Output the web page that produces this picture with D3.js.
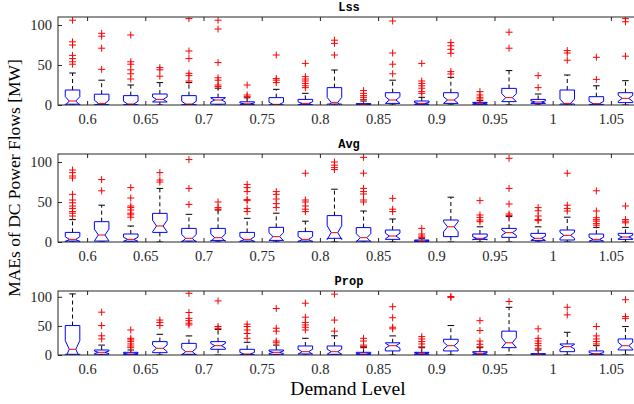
<!DOCTYPE html>
<html>
<head>
<meta charset="utf-8">
<script src="https://cdn.jsdelivr.net/npm/d3@7"></script>
<style>
html,body{margin:0;padding:0;background:#fff;}
svg{display:block;}
.serif{font-family:"Liberation Serif","DejaVu Serif",serif;}
.mono{font-family:"Liberation Mono","DejaVu Sans Mono",monospace;font-weight:bold;}
</style>
</head>
<body>
<svg id="chart" width="634" height="404"></svg>
<script>
// ---------------- data ----------------
const demandLevels = ["0.6","0.65","0.7","0.75","0.8","0.85","0.9","0.95","1","1.05"];
const boxIds = d3.range(1, 21);           // 20 boxes, two per demand level
const yTicks = [0, 50, 100];
const sampleSize = 27;                    // for notch width (MATLAB: 1.57*IQR/sqrt(n))

// Lss
const lssQ1  = [1,0.5,0.5,3.75,0.5,1,0.5,0.3,0.5,1.2,0.3,2,0.8,2,0.8,4.2,2,1.2,0.8,3];
const lssMed = [5,2,1.25,7,1.25,6.25,1.5,0.8,2,3.3,0.8,6.25,2,6.25,2,9.2,3.75,2,1.7,8.3];
const lssQ3  = [18.75,13.5,11.7,13.75,11.7,9.2,4,9.2,7,21.7,1.7,15.4,5,15.4,3.3,20.8,7,18.75,10.4,15.4];
const lssWhi = [40,31,25,28,28,21,9,19.6,14.6,43.75,5,31,9.6,34.6,5.4,43,13.75,37.5,24,30.4];
const lssOut = [
  [106,79,75,62,58,54,51],
  [89.6,86,71,44.6],
  [87.5,54,51,44,39,32.5],
  [46.7,44,36],
  [108,67.5,58,39.6,36.7,30],
  [106,95,53,34,31,25,23],
  [25,12.5,10.4],
  [62.5,33,31,28],
  [52,35.4,32.5,30,27,24,21.7],
  [81,77,62.5],
  [18,14.6,11.7,9.6,7],
  [105,65,51,39],
  [52,30,27,24,21,16.7,14.6],
  [78,74,69.6,64.6,41.7,38.75],
  [16.7,12.5,9.6,7.5],
  [91,71],
  [36.7,21.7],
  [68,65,56],
  [59.6,32],
  [108,104,61]
];

// Avg
const avgQ1  = [1.2,1.2,1,12,1.2,2,1.2,2,1.2,4.6,1.2,3.3,0.4,6.7,3.3,5.8,2,2.5,1.2,3.3];
const avgMed = [3.3,8.75,3.3,20,4.6,5.4,3.3,6.7,3.3,11.7,5.4,7.5,1.2,19,4.6,11.7,4.6,8.3,3.3,6.25];
const avgQ3  = [12,25.4,10,35.8,17,17,12,18.3,13,33,18,15,2.5,27.5,10,17,10.8,15,10,10.8];
const avgWhi = [28,46,20,67,34.6,40,29.6,36,26,66,38.75,28.75,4.6,56,19,31.7,19,31,18.3,18.3];
const avgOut = [
  [90,86.7,82.5,80,59.6,52.5,49,45,42,38,36,32.5],
  [78,64],
  [68,55,45,43,40,36,34,31],
  [86.7,77.5,75],
  [103,67,47],
  [50,43,41],
  [72,68,63,53,51.7,42,38],
  [63,59.6,53.75,48,43],
  [86,52.5,50,45,41,38],
  [100,96,93,90.5],
  [105.8,86,67,63,60,52.5,50],
  [54.6,41,38],
  [17,10,7.5,5.8],
  [],
  [51.7,33.75,30.8,27.5,25.4],
  [104.6,67,47.5,35,33],
  [43,39,32.5,28,26.7],
  [86,46,42,38.75],
  [64,38.75,30.4,28,26,23,21],
  [45,28,26,24]
];

// Prop
const propQ1  = [1.2,1.2,0.6,4,1.2,9.8,0.6,1.2,1.7,1.2,0.6,7,0.6,7,0.6,12.6,0,5.7,0.6,8.6];
const propMed = [9.8,4.6,1.7,11.5,5.7,16,1.7,4.6,5.7,5.7,1.7,16,2.9,16,2.9,21,1.2,14.4,2.3,16];
const propQ3  = [50.6,8.6,4.6,23,20,23,9.8,8.6,15.5,15.5,4.6,21,4.6,27,5.7,41,2.3,19,7,27.6];
const propWhi = [105,17,8.6,35.6,32.8,44,21.8,17,28.7,33,12.6,32.8,12.6,50.6,12.6,82,8.6,39,16,48.9];
const propOut = [
  [],
  [73.6,50.6,33,27.6],
  [43,28.7,26,23,19,15.5,12.6],
  [60,56,50.6],
  [106,73,63,59,54.6,51.7],
  [93,49,46],
  [53,49,43,37,28.7],
  [80,46,41,24,21],
  [89,65,56,51.7,47.7,43],
  [104.6,60,41],
  [28.7,24,17,14.5],
  [83,64,47.7,45],
  [31.6,27.6,23,19,14],
  [100.6,99],
  [59,42,24,18.4,14],
  [92],
  [45,28.7,24,20,16,11.5],
  [82,69],
  [49,32.8,27.6,23,19],
  [95,66,63]
];

const panels = [
  {title:"Lss",  q1:lssQ1,  med:lssMed,  q3:lssQ3,  whi:lssWhi,  out:lssOut,  top:17,  bottom:105},
  {title:"Avg",  q1:avgQ1,  med:avgMed,  q3:avgQ3,  whi:avgWhi,  out:avgOut,  top:154, bottom:242},
  {title:"Prop", q1:propQ1, med:propMed, q3:propQ3, whi:propWhi, out:propOut, top:291, bottom:355}
];

// ---------------- drawing ----------------
const svg = d3.select("#chart");
const left = 58, right = 640;
const x = d3.scaleLinear().domain([0.5, 20.5]).range([left, right]);
const axisColor = "#262626";
const halfW = (x(1.25) - x(1));       // box half width (0.25 units)
const notchIn = halfW * 0.45;
const capW = halfW * 0.45;
const tickPositions = demandLevels.map((d, i) => 1.5 + 2 * i);

panels.forEach((p, pi) => {
  const y = d3.scaleLinear().domain([0, 110]).range([p.bottom, p.top]);
  const g = svg.append("g");
  const clipId = "clip" + pi;
  svg.append("clipPath").attr("id", clipId)
    .append("rect").attr("x", left).attr("y", p.top).attr("width", right - left).attr("height", p.bottom - p.top);

  const tl = 4;
  const xAxisB = d3.axisBottom(x).tickValues(tickPositions).tickFormat((d, i) => demandLevels[i]).tickSizeInner(-tl).tickSizeOuter(0).tickPadding(9);
  const gx = g.append("g").attr("transform", `translate(0,${p.bottom})`).call(xAxisB);
  gx.attr("font-family", null).attr("font-size", null);
  gx.select(".domain").remove();
  gx.selectAll("line").attr("stroke", axisColor);
  gx.selectAll("text").attr("class", "serif").style("font-size", "14.5px").attr("fill", axisColor);

  const xAxisT = d3.axisTop(x).tickValues(tickPositions).tickFormat("").tickSizeInner(-tl).tickSizeOuter(0);
  const gxt = g.append("g").attr("transform", `translate(0,${p.top})`).call(xAxisT);
  gxt.select(".domain").remove();
  gxt.selectAll("line").attr("stroke", axisColor);

  const yAxis = d3.axisLeft(y).tickValues(yTicks).tickSizeInner(-tl).tickSizeOuter(0).tickPadding(6);
  const gy = g.append("g").attr("transform", `translate(${left},0)`).call(yAxis);
  gy.attr("font-family", null).attr("font-size", null);
  gy.select(".domain").remove();
  gy.selectAll("line").attr("stroke", axisColor);
  gy.selectAll("text").attr("class", "serif").style("font-size", "14.5px").attr("fill", axisColor);

  const plot = g.append("g").attr("clip-path", `url(#${clipId})`);
  boxIds.forEach((id, i) => {
    const xc = x(id);
    const q1 = p.q1[i], med = p.med[i], q3 = p.q3[i], whi = p.whi[i], wlo = 0;
    const k = 1.57 * (q3 - q1) / Math.sqrt(sampleSize);
    const nU = med + k, nL = med - k;
    plot.append("line").attr("x1", xc).attr("x2", xc).attr("y1", y(q3)).attr("y2", y(whi))
      .attr("stroke", "#000").attr("stroke-width", 1).attr("stroke-dasharray", "4,3");
    plot.append("line").attr("x1", xc).attr("x2", xc).attr("y1", y(q1)).attr("y2", y(wlo))
      .attr("stroke", "#000").attr("stroke-width", 1).attr("stroke-dasharray", "4,3");
    plot.append("line").attr("x1", xc - capW).attr("x2", xc + capW).attr("y1", y(whi)).attr("y2", y(whi))
      .attr("stroke", "#000").attr("stroke-width", 1);
    plot.append("line").attr("x1", xc - capW).attr("x2", xc + capW).attr("y1", y(wlo)).attr("y2", y(wlo))
      .attr("stroke", "#000").attr("stroke-width", 1);
    const x0 = xc - halfW, x1 = xc + halfW;
    const pts = [[x0, q3], [x1, q3], [x1, nU], [xc + notchIn, med], [x1, nL], [x1, q1],
                 [x0, q1], [x0, nL], [xc - notchIn, med], [x0, nU]];
    plot.append("path")
      .attr("d", d3.line().x(d => d[0]).y(d => y(d[1]))(pts) + "Z")
      .attr("fill", "none").attr("stroke", "#0000ff").attr("stroke-width", 1);
    plot.append("line").attr("x1", xc - notchIn).attr("x2", xc + notchIn).attr("y1", y(med)).attr("y2", y(med))
      .attr("stroke", "#ff0000").attr("stroke-width", 1);
    p.out[i].forEach(v => {
      const yy = y(v), s = 3.5;
      plot.append("path").attr("d", `M${xc - s},${yy}H${xc + s}M${xc},${yy - s}V${yy + s}`)
        .attr("stroke", "#ff0000").attr("stroke-width", 1).attr("fill", "none");
    });
  });

  g.append("rect").attr("x", left).attr("y", p.top).attr("width", right - left).attr("height", p.bottom - p.top)
    .attr("fill", "none").attr("stroke", axisColor).attr("stroke-width", 1);

  g.append("text").attr("x", (left + right) / 2).attr("y", p.top - 6).attr("text-anchor", "middle")
    .attr("class", "mono").style("font-size", "12px").attr("fill", "#000").text(p.title);
});

svg.append("text").attr("x", 348).attr("y", 395).attr("text-anchor", "middle")
  .attr("class", "serif").style("font-size", "19.5px").attr("fill", "#000").text("Demand Level");
svg.append("text").attr("transform", "translate(20,178) rotate(-90)").attr("text-anchor", "middle")
  .attr("class", "serif").style("font-size", "17.5px").attr("fill", "#000").text("MAEs of DC Power Flows [MW]");
</script>
</body>
</html>
